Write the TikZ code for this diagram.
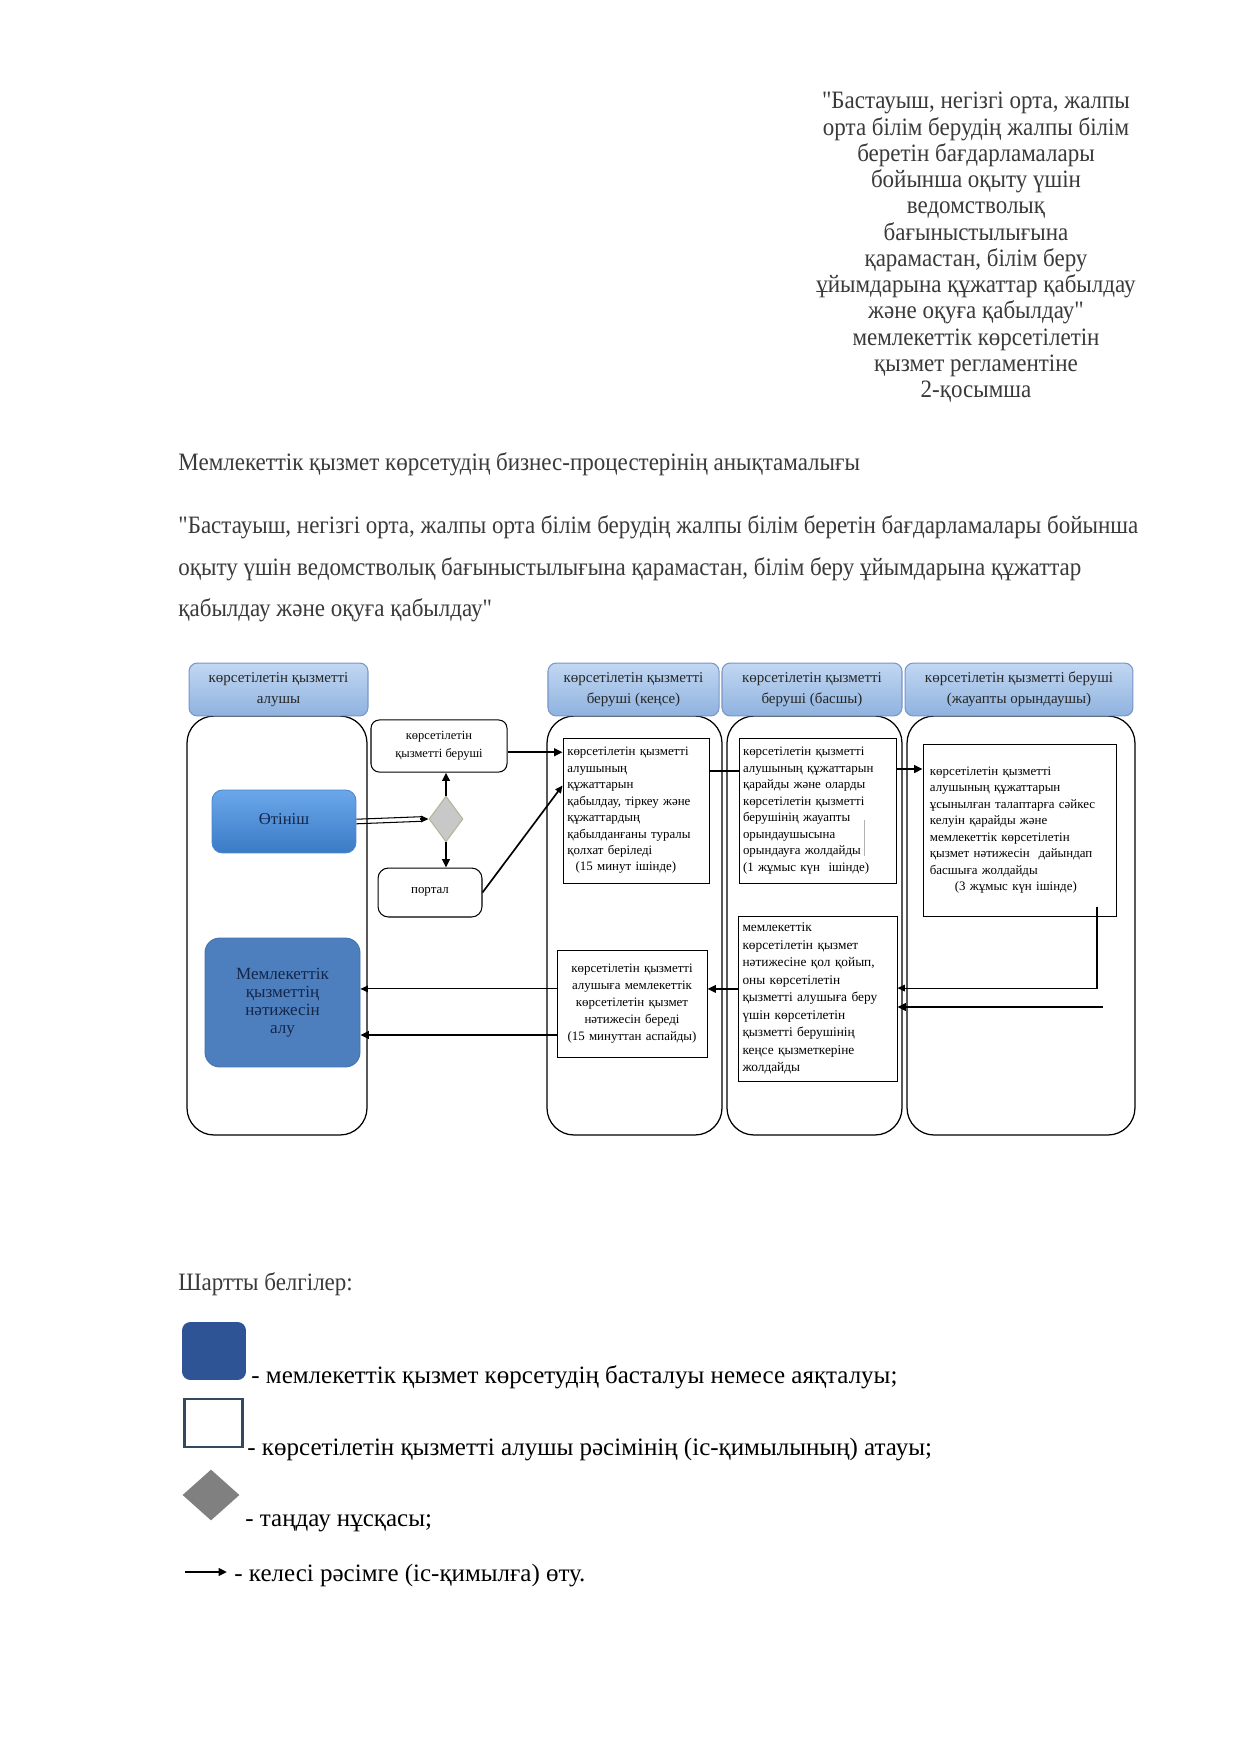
\documentclass[tikz,border=0pt]{standalone}
\usepackage{fontspec}
\setmainfont{Liberation Serif}[Ligatures=TeXOff]
\newfontfamily\narrowserif{Liberation Serif}[FakeStretch=0.92,Ligatures=TeXOff]
\usetikzlibrary{arrows.meta,shapes.geometric,calc}
\definecolor{txt}{HTML}{3A3A3A}
\definecolor{hdrtop}{HTML}{C2D7F2}
\definecolor{hdrbot}{HTML}{8EB2DF}
\definecolor{hdrline}{HTML}{7896C8}
\definecolor{apptop}{HTML}{6BA7EA}
\definecolor{appbot}{HTML}{3A7BC6}
\definecolor{appline}{HTML}{4A86CC}
\definecolor{resfill}{HTML}{4D7FBE}
\definecolor{resline}{HTML}{3F6FAE}
\definecolor{navy}{HTML}{14264A}
\definecolor{decfill}{HTML}{C8C8C8}
\definecolor{decline}{HTML}{B4B49A}
\definecolor{legblue}{HTML}{2F5496}
\definecolor{legline}{HTML}{34495E}
\definecolor{leggray}{HTML}{808080}
\begin{document}
\begin{tikzpicture}[x=0.48pt,y=-0.48pt,
  hdr/.style={draw=hdrline, line width=0.5pt, rounded corners=4pt, top color=hdrtop, bottom color=hdrbot, inner sep=0pt, align=center, font=\fontsize{7.2}{10.2}\selectfont, text=black!85, minimum height=25.4pt},
  lane/.style={draw, line width=0.6pt, rounded corners=13pt, inner sep=0pt, minimum height=201.1pt},
  proc/.style={draw, line width=0.45pt, inner sep=0pt, align=left, font=\fontsize{6.2}{7.9}\selectfont},
  arr/.style={-{Triangle[length=4pt,width=3.6pt]}, line width=1pt},
  arrthin/.style={-{Triangle[length=3.6pt,width=3.2pt]}, line width=0.5pt},
  dbl/.style={line width=0.5pt},
  plain/.style={anchor=base west, inner sep=0pt, font=\narrowserif\fontsize{12}{14}\selectfont, text=txt},
  legtext/.style={anchor=base west, inner sep=0pt, font=\fontsize{12}{14}\selectfont, text=black}
]
\useasboundingbox (0,0) rectangle (1240,1754);
\fill[white] (0,0) rectangle (1240,1754);

% top right block
\node[anchor=north, align=center, font=\narrowserif\fontsize{12}{12.6}\selectfont, text=txt, inner sep=0pt] (T) at (976,92)
 {"Бастауыш, негізгі орта, жалпы\\орта білім берудің жалпы білім\\беретін бағдарламалары\\бойынша оқыту үшін\\ведомстволық\\бағыныстылығына\\қарамастан, білім беру\\ұйымдарына құжаттар қабылдау\\және оқуға қабылдау"\\мемлекеттік көрсетілетін\\қызмет регламентіне\\2-қосымша};

\node[plain] (TT) at (178,470) {Мемлекеттік қызмет көрсетудің бизнес-процестерінің анықтамалығы};
\node[plain] (Q1) at (178,533) {"Бастауыш, негізгі орта, жалпы орта білім берудің жалпы білім беретін бағдарламалары бойынша};
\node[plain] (Q2) at (178,575) {оқыту үшін ведомстволық бағыныстылығына қарамастан, білім беру ұйымдарына құжаттар};
\node[plain] (Q3) at (178,616) {қабылдау және оқуға қабылдау"};

% lanes
\node[lane, minimum width=86.4pt] (L1) at (277,925.5) {};
\node[lane, minimum width=84pt] (L2) at (634.5,925.5) {};
\node[lane, minimum width=84pt] (L3) at (814.5,925.5) {};
\node[lane, minimum width=109.4pt] (L4) at (1021,925.5) {};

% headers
\node[hdr, minimum width=85.9pt] (H1) at (278.5,689.5) {көрсетілетін қызметті\\алушы};
\node[hdr, minimum width=82.1pt] (H2) at (633.5,689.5) {көрсетілетін қызметті\\беруші (кеңсе)};
\node[hdr, minimum width=86.4pt] (H3) at (812,689.5) {көрсетілетін қызметті\\беруші (басшы)};
\node[hdr, minimum width=109.4pt] (H4) at (1019,689.5) {көрсетілетін қызметті беруші\\(жауапты орындаушы)};

% lane 1 and middle
\node[rounded corners=5pt, top color=apptop, bottom color=appbot, draw=appline, line width=0.4pt, minimum width=69.1pt, minimum height=30.2pt, font=\fontsize{8}{10}\selectfont, text=navy, inner sep=0pt] (A) at (284,821.5) {\raisebox{2pt}{Өтініш}};
\node[rounded corners=7pt, fill=resfill, draw=resline, line width=0.4pt, minimum width=74.4pt, minimum height=61.9pt, align=center, font=\fontsize{8.2}{8.6}\selectfont, text=navy, inner sep=0pt] (R) at (282.5,1002.5) {Мемлекеттік\\қызметтің\\нәтижесін\\алу};
\node[draw, rounded corners=4pt, line width=0.5pt, minimum width=65.3pt, minimum height=25pt, align=center, font=\fontsize{6}{8.6}\selectfont, inner sep=0pt] (P) at (439,746) {көрсетілетін\\қызметті беруші};
\node[diamond, draw=decline, fill=decfill, line width=0.5pt, minimum width=16.3pt, minimum height=22pt, inner sep=0pt] (DEC) at (446,819) {};
\node[draw, rounded corners=5pt, line width=0.5pt, minimum width=49.9pt, minimum height=23.5pt, font=\fontsize{6.2}{8}\selectfont, inner sep=0pt] (PO) at (430,892.5) {\raisebox{2pt}{портал}};

% lane 2
\node[proc, text width=66pt, minimum width=70.1pt, minimum height=69.6pt] (K1) at (636,810.5)
 {көрсетілетін қызметті\\алушының\\құжаттарын\\қабылдау, тіркеу және\\құжаттардың\\қабылданғаны туралы\\қолхат беріледі\\\hspace*{4pt}(15 минут ішінде)};
\node[proc, align=center, text width=68pt, minimum width=72pt, minimum height=51.4pt, font=\fontsize{6.2}{8.2}\selectfont] (K2) at (632,1003.5)
 {көрсетілетін қызметті\\алушыға мемлекеттік\\көрсетілетін қызмет\\нәтижесін береді\\(15 минуттан аспайды)};

% lane 3
\node[proc, text width=72pt, minimum width=75.8pt, minimum height=69.6pt] (C1) at (818,810.5)
 {көрсетілетін қызметті\\алушының құжаттарын\\қарайды және оларды\\көрсетілетін қызметті\\берушінің жауапты\\орындаушысына\\орындауға жолдайды\\(1 жұмыс күн\ \ ішінде)};
\node[proc, font=\fontsize{6.4}{8.4}\selectfont, text width=72pt, minimum width=76.3pt, minimum height=79.2pt] (C2) at (817.5,998.5)
 {мемлекеттік\\көрсетілетін қызмет\\нәтижесіне қол қойып,\\оны көрсетілетін\\қызметті алушыға беру\\үшін көрсетілетін\\қызметті берушінің\\кеңсе қызметкеріне\\жолдайды};

% lane 4
\node[proc, text width=86pt, minimum width=92.6pt, minimum height=82.6pt] (D1) at (1019.5,830)
 {көрсетілетін қызметті\\алушының құжаттарын\\ұсынылған талаптарға сәйкес\\келуін қарайды және\\мемлекеттік көрсетілетін\\қызмет нәтижесін\ \ дайындап\\басшыға жолдайды\\\hspace*{12pt}(3 жұмыс күн ішінде)};

% artifact line inside C1
\draw[gray!60, line width=0.3pt] (864,820) -- (864,856);

% connectors
\draw[dbl] ([yshift=1.1pt]A.east) -- ([yshift=1.1pt,xshift=-3.5pt]DEC.west);
\draw[dbl] ([yshift=-1.1pt]A.east) -- ([yshift=-1.1pt,xshift=-3.5pt]DEC.west);
\draw[arrthin] ([xshift=-4pt]DEC.west) -- (DEC.west);
\draw[arr] (DEC.north) -- (DEC.north |- P.south);
\draw[arr] (DEC.south) -- (DEC.south |- PO.north);
\draw[arr] ([yshift=-3pt]P.east) -- ([yshift=-3pt]P.east -| K1.west);
\draw[arrthin, line width=0.8pt] (PO.east) -- ([yshift=12pt]K1.west);
\draw[line width=1.1pt] ([yshift=19pt]K1.east) -- ([yshift=19pt]K1.east -| C1.west);
\draw[arr] ([yshift=19.9pt]C1.east) -- ([yshift=19.9pt]C1.east -| D1.west);
\draw[arrthin] ([xshift=37.2pt,yshift=4.8pt]D1.south) |- ([yshift=5pt]C2.east);
\coordinate (F) at (1103,1007);
\draw[arr] (F) -- (F -| C2.east);
\draw[arr] ([yshift=4.6pt]C2.west) -- ([yshift=4.6pt]C2.west -| K2.east);
\draw[arrthin] ([yshift=7pt]K2.west) -- ([yshift=7pt]K2.west -| R.east);
\draw[arr] ([yshift=-15.1pt]K2.west) -- ([yshift=-15.1pt]K2.west -| R.east);

% legend
\node[legtext, text=txt, font=\narrowserif\fontsize{12}{14}\selectfont] (LG) at (178,1290) {Шартты белгілер:};
\node[fill=legblue, rounded corners=4pt, minimum width=30.7pt, minimum height=27.8pt, inner sep=0pt] (LB) at (214,1351) {};
\node[legtext] (LT1) at (251,1383) {- мемлекеттік қызмет көрсетудің басталуы немесе аяқталуы;};
\node[draw=legline, line width=1.3pt, fill=white, minimum width=28pt, minimum height=23pt, inner sep=0pt] (LW) at (213.5,1423) {};
\node[legtext] (LT2) at (247,1455) {- көрсетілетін қызметті алушы рәсімінің (іс-қимылының) атауы;};
\node[diamond, fill=leggray, minimum width=27.4pt, minimum height=24.5pt, inner sep=0pt] (LD) at (211,1495) {};
\node[legtext] (LT3) at (245,1526) {- таңдау нұсқасы;};
\coordinate (LA1) at (185,1572);
\coordinate (LA2) at (227,1572);
\draw[arr] (LA1) -- (LA2);
\node[legtext] (LT4) at (234,1581) {- келесі рәсімге (іс-қимылға) өту.};
\end{tikzpicture}
\end{document}
